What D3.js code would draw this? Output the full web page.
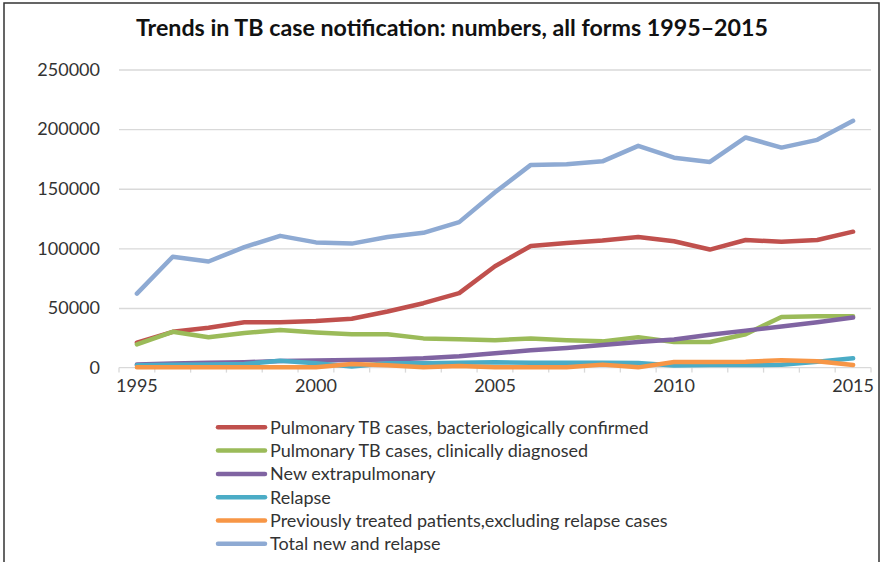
<!DOCTYPE html>
<html>
<head>
<meta charset="utf-8">
<script src="https://cdn.jsdelivr.net/npm/d3@7"></script>
<style>
  body { margin: 0; background: #fff; }
  text { font-family: Lato, "Open Sans", sans-serif; }
</style>
</head>
<body>
<script>
// years on the category axis
const years = d3.range(1995, 2016);
const yTicks = [0, 50000, 100000, 150000, 200000, 250000];
const xLabels = [1995, 2000, 2005, 2010, 2015];

// series values
const bactConfirmed = [21000, 30000, 33500, 38000, 38000, 39000, 41000, 47000, 54000, 62500, 85000, 102000, 104500, 106500, 109500, 106000, 99000, 107000, 105500, 107000, 114000];
const clinDiagnosed = [19500, 30000, 25500, 29000, 31500, 29500, 28000, 28000, 24500, 23700, 23000, 24500, 23000, 22000, 25500, 21500, 21500, 28000, 42500, 43000, 43000];
const extraPulm = [2500, 3500, 4000, 4500, 5500, 6000, 6300, 6800, 7800, 9500, 12000, 14500, 16500, 19000, 21500, 23500, 27500, 31000, 34500, 38000, 42000];
const relapse = [2000, 2300, 2700, 3000, 5800, 3600, 1000, 3600, 3600, 4100, 4500, 4100, 4100, 4100, 3800, 1800, 2200, 2200, 2300, 5000, 7800];
const prevTreated = [300, 300, 300, 300, 300, 300, 3000, 1900, 300, 1300, 300, 200, 200, 2500, 200, 4700, 4700, 4900, 6100, 5300, 2200];
const totalNewRelapse = [62000, 93000, 89000, 101000, 110500, 105000, 104000, 109500, 113000, 122000, 147000, 170000, 170500, 173000, 186000, 176000, 172500, 193000, 184500, 191000, 207000];

const seriesNames = [
  "Pulmonary TB cases, bacteriologically confirmed",
  "Pulmonary TB cases, clinically diagnosed",
  "New extrapulmonary",
  "Relapse",
  "Previously treated patients,excluding relapse cases",
  "Total new and relapse"
];
const seriesColors = ["#c0504d", "#9bbb59", "#8064a2", "#4bacc6", "#f79646", "#8eaad3"];
const seriesValues = [bactConfirmed, clinDiagnosed, extraPulm, relapse, prevTreated, totalNewRelapse];

const series = seriesNames.map((name, i) => ({
  name: name,
  color: seriesColors[i],
  values: seriesValues[i].map((v, j) => ({ year: years[j], value: v }))
}));

const width = 891, height = 562;
const plot = { left: 119, right: 871, top: 69.5, bottom: 367.6 };

const svg = d3.select("body").append("svg")
    .attr("width", width)
    .attr("height", height);

// outer frame
svg.append("rect")
    .attr("x", 4).attr("y", 3)
    .attr("width", 875).attr("height", 620)
    .attr("fill", "none")
    .attr("stroke", "#333")
    .attr("stroke-width", 1.5);

const x = d3.scaleBand()
    .domain(years)
    .range([plot.left, plot.right]);

const y = d3.scaleLinear()
    .domain([0, 250000])
    .range([plot.bottom, plot.top]);

// gridlines
svg.append("g")
    .attr("transform", `translate(${plot.left},0)`)
    .call(d3.axisLeft(y).tickValues(yTicks.slice(1)).tickSize(-(plot.right - plot.left)).tickFormat(""))
    .call(g => g.select(".domain").remove())
    .call(g => g.selectAll("line").attr("stroke", "#d9d9d9").attr("stroke-width", 1.3));

// y labels
svg.append("g")
    .attr("transform", "translate(100,0)")
    .call(d3.axisLeft(y).tickValues(yTicks).tickSize(0).tickPadding(0).tickFormat(d3.format("d")))
    .call(g => g.select(".domain").remove())
    .call(g => g.selectAll("text")
        .attr("fill", "#333")
        .style("font-size", "18px")
        .style("font-family", "Lato, sans-serif"));

// x axis line and tick marks between categories
const xAxis = svg.append("g");
xAxis.append("line")
    .attr("x1", plot.left).attr("x2", plot.right)
    .attr("y1", y(0)).attr("y2", y(0))
    .attr("stroke", "#d9d9d9").attr("stroke-width", 1.3);
xAxis.selectAll(".xtick")
    .data(years.concat([null]))
    .enter().append("line")
    .attr("class", "xtick")
    .attr("x1", d => d === null ? plot.right : x(d))
    .attr("x2", d => d === null ? plot.right : x(d))
    .attr("y1", y(0)).attr("y2", y(0) + 5)
    .attr("stroke", "#d9d9d9").attr("stroke-width", 1.3);

// x labels
svg.append("g")
    .attr("transform", `translate(0,${y(0) + 18})`)
    .call(d3.axisBottom(x).tickValues(xLabels).tickSize(0).tickPadding(0))
    .call(g => g.select(".domain").remove())
    .call(g => g.selectAll("text")
        .attr("fill", "#333")
        .attr("dy", "0.35em")
        .style("font-size", "18px")
        .style("font-family", "Lato, sans-serif"));

// lines
const line = d3.line()
    .x(d => x(d.year) + x.bandwidth() / 2)
    .y(d => y(d.value));

svg.append("g")
    .selectAll("path")
    .data(series)
    .enter().append("path")
    .attr("d", d => line(d.values))
    .attr("fill", "none")
    .attr("stroke", d => d.color)
    .attr("stroke-width", 4.5)
    .attr("stroke-linejoin", "round")
    .attr("stroke-linecap", "round");

// title
svg.append("text")
    .attr("x", 136)
    .attr("y", 36)
    .attr("textLength", 632)
    .attr("lengthAdjust", "spacingAndGlyphs")
    .attr("fill", "#111")
    .style("font-size", "23px")
    .style("font-weight", "bold")
    .text("Trends in TB case notification: numbers, all forms 1995\u20132015");

// legend
const legend = svg.append("g")
    .selectAll(".legend")
    .data(series)
    .enter().append("g")
    .attr("class", "legend")
    .attr("transform", (d, i) => `translate(218,${427.3 + i * 23.3})`);

legend.append("line")
    .attr("x1", 0).attr("x2", 47)
    .attr("stroke", d => d.color)
    .attr("stroke-width", 4.5)
    .attr("stroke-linecap", "round");

legend.append("text")
    .attr("x", 52)
    .attr("dy", "0.35em")
    .attr("fill", "#333")
    .style("font-size", "18px")
    .text(d => d.name);
</script>
</body>
</html>
